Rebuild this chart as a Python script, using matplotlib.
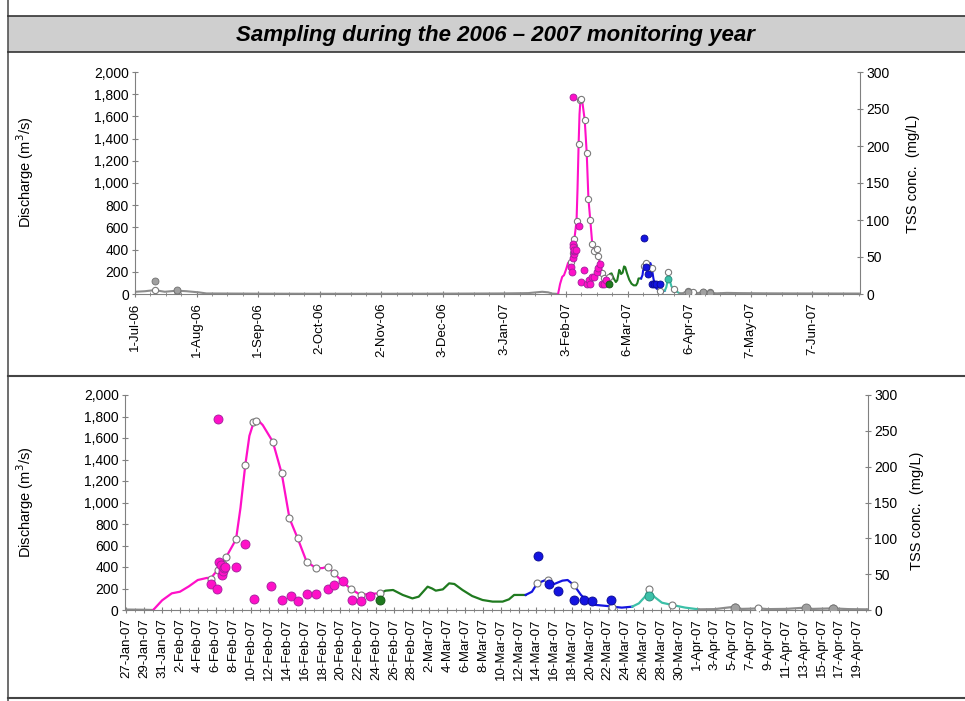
import matplotlib
matplotlib.use('Agg')
import matplotlib.pyplot as plt
import matplotlib.dates as mdates
from matplotlib.ticker import FixedLocator, FuncFormatter
import pandas as pd

plt.rcParams['font.family'] = ['Liberation Sans', 'DejaVu Sans']

#discharge (m3/s), split in the coloured sampling periods
gray1_t = ['2006-07-01', '2006-07-06', '2006-07-11', '2006-07-16', '2006-07-22', '2006-07-27',
           '2006-08-02', '2006-08-06', '2006-09-01', '2006-10-01', '2006-11-01', '2006-12-01',
           '2007-01-01', '2007-01-15', '2007-01-22', '2007-01-25', '2007-01-27', '2007-01-29',
           '2007-01-30']
gray1_q = [20, 25, 35, 20, 30, 25, 15, 5, 3, 2, 2, 3, 5, 8, 20, 15, 4, 2, 0]

mag_t = ['2007-01-30 00:00', '2007-01-31 00:00', '2007-02-01 02:00', '2007-02-02 00:00',
         '2007-02-03 00:00', '2007-02-04 00:00', '2007-02-05 00:00', '2007-02-05 12:00',
         '2007-02-06 12:00', '2007-02-07 05:00', '2007-02-08 07:00', '2007-02-08 19:00',
         '2007-02-09 08:00', '2007-02-09 19:00', '2007-02-10 07:00', '2007-02-10 17:00',
         '2007-02-11 07:00', '2007-02-12 10:00', '2007-02-13 10:00', '2007-02-14 07:00',
         '2007-02-15 05:00', '2007-02-16 05:00', '2007-02-17 07:00', '2007-02-18 00:00',
         '2007-02-18 14:00', '2007-02-19 07:00', '2007-02-20 07:00', '2007-02-21 05:00',
         '2007-02-22 07:00', '2007-02-23 07:00', '2007-02-24 10:00']
mag_q = [0, 90, 155, 170, 220, 279, 298, 300, 400, 496, 657, 950, 1349, 1620, 1752, 1770,
         1720, 1566, 1271, 852, 667, 450, 388, 390, 403, 341, 260, 192, 140, 150, 155]

grn_t = ['2007-02-24 10:00', '2007-02-25 02:00', '2007-02-25 22:00', '2007-02-27 00:00',
         '2007-02-28 02:00', '2007-02-28 19:00', '2007-03-01 19:00', '2007-03-02 07:00',
         '2007-03-02 17:00', '2007-03-03 12:00', '2007-03-04 05:00', '2007-03-04 19:00',
         '2007-03-05 17:00', '2007-03-06 19:00', '2007-03-07 23:00', '2007-03-09 02:00',
         '2007-03-10 05:00', '2007-03-10 22:00', '2007-03-11 12:00', '2007-03-12 07:00',
         '2007-03-12 19:00']
grn_q = [155, 180, 186, 140, 108, 124, 217, 200, 180, 192, 248, 242, 186, 130, 93, 78, 78,
         99, 140, 140, 140]

blu_t = ['2007-03-12 19:00', '2007-03-13 12:00', '2007-03-14 02:00', '2007-03-15 01:00',
         '2007-03-16 00:00', '2007-03-16 22:00', '2007-03-17 12:00', '2007-03-18 05:00',
         '2007-03-19 00:00', '2007-03-19 22:00', '2007-03-20 16:00', '2007-03-21 23:00',
         '2007-03-22 12:00', '2007-03-23 14:00', '2007-03-24 18:00']
blu_q = [140, 170, 248, 279, 242, 273, 279, 232, 140, 68, 47, 37, 31, 22, 31]

cya_t = ['2007-03-24 18:00', '2007-03-25 12:00', '2007-03-26 06:00', '2007-03-26 14:00',
         '2007-03-27 05:00', '2007-03-28 02:00', '2007-03-29 05:00', '2007-03-30 17:00',
         '2007-04-01 05:00']
cya_q = [31, 62, 130, 200, 124, 68, 47, 22, 6]

gray2_t = ['2007-04-01 05:00', '2007-04-03', '2007-04-05 07:00', '2007-04-06', '2007-04-07',
           '2007-04-07 22:00', '2007-04-09', '2007-04-11', '2007-04-13 05:00', '2007-04-14',
           '2007-04-16 07:00', '2007-04-18', '2007-04-20', '2007-04-25', '2007-05-01',
           '2007-05-15', '2007-06-01', '2007-06-30']
gray2_q = [6, 8, 31, 10, 12, 15, 8, 10, 22, 10, 15, 8, 6, 10, 8, 6, 5, 4]

#discharge at the time of sampling (open circles)
samp_t = ['2006-07-11', '2006-07-22', '2007-02-05 12:00', '2007-02-06 07:00', '2007-02-06 19:00',
          '2007-02-07 05:00', '2007-02-08 07:00', '2007-02-09 08:00', '2007-02-10 05:00',
          '2007-02-10 12:00', '2007-02-12 10:00', '2007-02-13 10:00', '2007-02-14 07:00',
          '2007-02-15 05:00', '2007-02-16 05:00', '2007-02-17 07:00', '2007-02-18 14:00',
          '2007-02-19 07:00', '2007-02-21 05:00', '2007-02-22 07:00', '2007-02-24 10:00',
          '2007-03-14 02:00', '2007-03-15 07:00', '2007-03-18 05:00', '2007-03-22 12:00',
          '2007-03-26 14:00', '2007-03-29 05:00', '2007-04-05 07:00', '2007-04-07 22:00',
          '2007-04-13 05:00', '2007-04-16 07:00']
samp_q = [35, 25, 288, 370, 430, 496, 657, 1349, 1745, 1760, 1566, 1271, 852, 667, 450, 388,
          403, 341, 192, 140, 155, 255, 280, 232, 31, 200, 47, 31, 15, 22, 15]

#TSS concentrations (mg/L)
tss_mag_t = ['2007-02-05 12:00', '2007-02-06 05:00', '2007-02-06 07:00', '2007-02-06 10:00',
             '2007-02-06 14:00', '2007-02-06 17:00', '2007-02-06 19:00', '2007-02-06 22:00',
             '2007-02-07 00:00', '2007-02-08 06:00', '2007-02-09 08:00', '2007-02-10 07:00',
             '2007-02-12 06:00', '2007-02-13 10:00', '2007-02-14 10:00', '2007-02-15 07:00',
             '2007-02-16 06:00', '2007-02-17 07:00', '2007-02-18 14:00', '2007-02-19 07:00',
             '2007-02-20 07:00', '2007-02-21 07:00', '2007-02-22 07:00', '2007-02-23 07:00']
tss_mag = [36, 30, 266, 67, 63, 49, 54, 58, 60, 60, 92, 16, 33, 14, 19, 13, 23, 23, 30, 35,
           41, 14, 13, 19]
tss_grn_t = ['2007-02-24 12:00']
tss_grn = [14]
tss_blu_t = ['2007-03-14 05:00', '2007-03-15 10:00', '2007-03-16 10:00', '2007-03-18 05:00',
             '2007-03-19 07:00', '2007-03-20 07:00', '2007-03-22 10:00']
tss_blu = [76, 36, 27, 14, 14, 13, 14]
tss_cya_t = ['2007-03-26 14:00']
tss_cya = [20]
tss_gry_t = ['2006-07-11', '2006-07-22', '2007-04-05 07:00', '2007-04-13 05:00',
             '2007-04-16 07:00']
tss_gry = [17, 5, 3, 3, 2]

top_ticks = pd.date_range('2006-07-01', periods=12, freq='31D')
bot_ticks = pd.date_range('2007-01-27', '2007-04-19', freq='2D')

c_gray = '#8C8C8C'
c_mag = '#FF10C8'
c_grn = '#1F7A1F'
c_blu = '#1414E0'
c_cya = '#3CC0A8'

def dt(lst):
  return mdates.date2num(pd.to_datetime(lst, format='mixed'))

def date_label(d):
  return f"{d.day}-{d:%b-%y}"

def draw_panel(ax, xlim, ticks, minor, lw, ms, dot_ms):
  '''
  Draws discharge line, sample circles and TSS dots into one panel.
  '''
  segs = [(gray1_t, gray1_q, c_gray), (mag_t, mag_q, c_mag), (grn_t, grn_q, c_grn),
          (blu_t, blu_q, c_blu), (cya_t, cya_q, c_cya), (gray2_t, gray2_q, c_gray)]
  for t, q, c in segs:
    ax.plot(dt(t), q, color=c, lw=lw, solid_joinstyle='round', zorder=2)
  ax.plot(dt(samp_t), samp_q, ls='none', marker='o', ms=ms, mfc='white', mec='#7A7A7A',
          mew=0.8, zorder=3)
  ax.set_ylim(0, 2000)
  ax.set_yticks(range(0, 2001, 200))
  ax.yaxis.set_major_formatter(FuncFormatter(lambda v, p: f"{v:,.0f}"))
  ax.set_xlim(dt(xlim))
  ax.xaxis.set_major_locator(FixedLocator(dt(ticks)))
  ax.xaxis.set_minor_locator(FixedLocator(dt(minor)))
  ax.set_xticklabels([date_label(d) for d in ticks], rotation=90, fontsize=9.5)
  for s in ['top', 'right']:
    ax.spines[s].set_visible(False)
  for s in ['left', 'bottom']:
    ax.spines[s].set_color('#808080')
  ax.tick_params(axis='y', labelsize=10, direction='inout', length=5, color='#808080', pad=2)
  ax.tick_params(axis='x', which='both', direction='inout', length=4, color='#808080', pad=4)
  ax.tick_params(axis='x', which='minor', length=3)

  ax2 = ax.twinx()
  ax2.set_ylim(0, 300)
  ax2.set_yticks(range(0, 301, 50))
  for s in ['top', 'left', 'bottom']:
    ax2.spines[s].set_visible(False)
  ax2.spines['right'].set_color('#808080')
  ax2.tick_params(axis='y', labelsize=10, direction='inout', length=5, color='#808080', pad=2)
  dots = [(tss_mag_t, tss_mag, c_mag, '#A0209A'), (tss_grn_t, tss_grn, c_grn, '#145214'),
          (tss_blu_t, tss_blu, c_blu, '#0A0A90'), (tss_cya_t, tss_cya, c_cya, '#2A8A7A'),
          (tss_gry_t, tss_gry, '#A0A0A0', '#707070')]
  for t, v, c, e in dots:
    ax2.plot(dt(t), v, ls='none', marker='o', ms=dot_ms, mfc=c, mec=e, mew=0.6, zorder=4)
  return ax2

fig = plt.figure(figsize=(9.65, 7.01), dpi=100)
W, H = 965, 701

#frame lines and banner
fig.add_artist(plt.Line2D([8 / W, 8 / W], [0, 1], color='#555555', lw=1.2))
fig.add_artist(plt.Line2D([8 / W, 1], [1 - 376 / H] * 2, color='#444444', lw=1.5))
fig.add_artist(plt.Line2D([8 / W, 1], [1 - 698 / H] * 2, color='#444444', lw=1.5))
fig.add_artist(plt.Rectangle((8 / W, 1 - 52 / H), 1 - 8 / W, 36 / H, facecolor='#CFCFCF',
                             edgecolor='none'))
fig.add_artist(plt.Line2D([8 / W, 1], [1 - 16 / H] * 2, color='#333333', lw=1.2))
fig.add_artist(plt.Line2D([8 / W, 1], [1 - 52 / H] * 2, color='#333333', lw=1.2))
fig.text(495 / W, 1 - 35 / H, 'Sampling during the 2006 \u2013 2007 monitoring year',
         ha='center', va='center', fontsize=16, fontweight='bold', fontstyle='italic')

ax_top = fig.add_axes([135 / W, 1 - 294 / H, 725 / W, 222 / H])
top_minor = pd.date_range('2006-07-01', '2007-07-01', freq='186h')
a2 = draw_panel(ax_top, ['2006-07-01', '2007-07-01'], top_ticks, top_minor, 1.5, 4.5, 5)
ax_top.set_ylabel('Discharge (m$^3$/s)', fontsize=10.5)
ax_top.yaxis.set_label_coords(-0.137, 0.55)
a2.set_ylabel('TSS conc.  (mg/L)', fontsize=10.5)
a2.yaxis.set_label_coords(1.063, 0.54)

ax_bot = fig.add_axes([125 / W, 1 - 610 / H, 743 / W, 215 / H])
bot_minor = pd.date_range('2007-01-27', '2007-04-20', freq='1D')
b2 = draw_panel(ax_bot, ['2007-01-26 20:00', '2007-04-20 05:00'], bot_ticks, bot_minor,
                1.6, 5, 6.5)
ax_bot.set_ylabel('Discharge (m$^3$/s)', fontsize=10.5)
ax_bot.yaxis.set_label_coords(-0.12, 0.5)
b2.set_ylabel('TSS conc.  (mg/L)', fontsize=10.5)
b2.yaxis.set_label_coords(1.057, 0.46)

fig.savefig('out.png', dpi=100)
